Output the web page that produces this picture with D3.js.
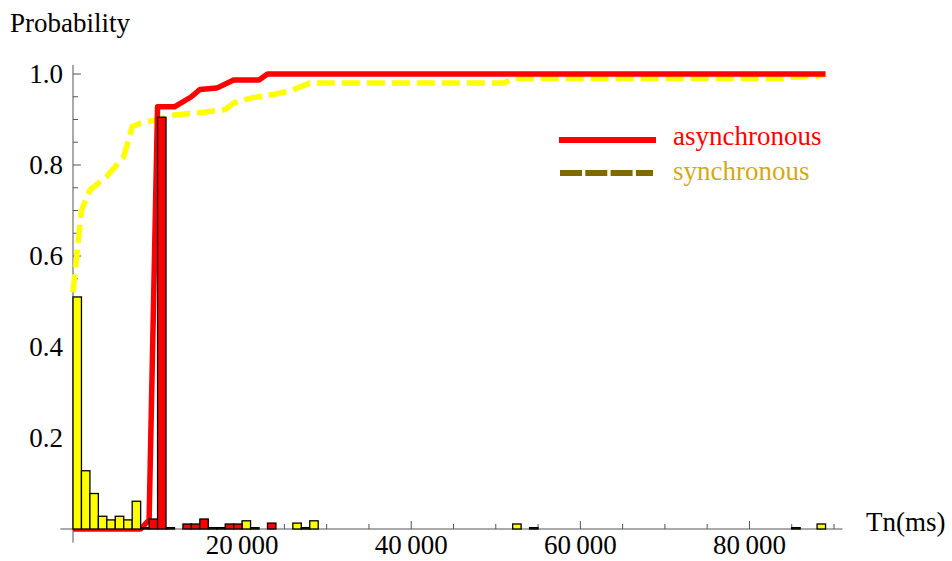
<!DOCTYPE html>
<html>
<head>
<meta charset="utf-8">
<script src="https://cdn.jsdelivr.net/npm/d3@7"></script>
<style>
  body { margin: 0; background: #fff; }
  svg text { font-family: "Liberation Serif", "DejaVu Serif", serif; }
</style>
</head>
<body>
<svg width="952" height="561"></svg>
<script>
// histogram bins (start of bin in ms, probability), bin width 1000 ms
var binWidth = 1000;
var syncStarts = [0, 1000, 2000, 3000, 4000, 5000, 6000, 7000, 8000, 11000, 16000, 17000,
    20000, 21000, 26000, 27000, 28000, 52000, 54000, 85000, 88000];
var syncProb = [0.51, 0.128, 0.078, 0.028, 0.02, 0.028, 0.02, 0.061, 0.003, 0.003, 0.003, 0.003,
    0.018, 0.003, 0.013, 0.003, 0.018, 0.011, 0.003, 0.003, 0.011];
var asyncStarts = [9000, 10000, 13000, 14000, 15000, 18000, 19000, 23000];
var asyncProb = [0.022, 0.905, 0.011, 0.011, 0.022, 0.011, 0.011, 0.013];

// cumulative curves
var asyncCdfT = [0, 8000, 9000, 10000, 12000, 14000, 15000, 17000, 19000, 22000, 23000, 89000];
var asyncCdfP = [0, 0, 0.02, 0.928, 0.928, 0.95, 0.966, 0.969, 0.987, 0.987, 1.0, 1.0];
var syncCdfT = [0, 1000, 2000, 4000, 6000, 7000, 8000, 9000, 10000, 12000, 15000, 18000, 19000,
    21000, 24000, 26000, 28000, 51000, 52000, 84000, 85000, 88000, 89000];
var syncCdfP = [0.52, 0.70, 0.745, 0.775, 0.818, 0.884, 0.892, 0.896, 0.90, 0.91, 0.915, 0.922, 0.936,
    0.947, 0.956, 0.965, 0.98, 0.98, 0.99, 0.99, 0.993, 0.995, 1.0];

// axes
var xTickLabels = [20000, 40000, 60000, 80000];
var yTickLabels = [0.2, 0.4, 0.6, 0.8, 1.0];
var seriesNames = ["asynchronous", "synchronous"];

var svg = d3.select("svg");

var x = d3.scaleLinear().domain([0, 90000]).range([73, 834]);
var y = d3.scaleLinear().domain([0, 1]).range([529, 74]);

var axisColor = "#555";

// x axis line and ticks
svg.append("line")
    .attr("x1", x(-1500)).attr("x2", x(91000))
    .attr("y1", y(0)).attr("y2", y(0))
    .attr("stroke", axisColor).attr("stroke-width", 1);

svg.append("g").selectAll("line")
    .data(d3.range(5000, 90001, 5000))
    .enter().append("line")
    .attr("x1", function (d) { return x(d); })
    .attr("x2", function (d) { return x(d); })
    .attr("y1", y(0))
    .attr("y2", function (d) { return y(0) - (d % 20000 == 0 ? 8 : 5); })
    .attr("stroke", axisColor);

svg.append("g").selectAll("text")
    .data(xTickLabels)
    .enter().append("text")
    .attr("x", function (d) { return x(d); })
    .attr("y", 554)
    .attr("text-anchor", "middle")
    .attr("font-size", "27px")
    .text(function (d) { return d3.format(",")(d).replace(",", "\u2009"); });

// y axis line and ticks
svg.append("line")
    .attr("x1", x(0)).attr("x2", x(0))
    .attr("y1", y(-0.03)).attr("y2", y(1.02))
    .attr("stroke", axisColor).attr("stroke-width", 1);

svg.append("g").selectAll("line")
    .data(d3.range(1, 21))
    .enter().append("line")
    .attr("x1", x(0))
    .attr("x2", function (d) { return x(0) + (d % 4 == 0 ? 8 : 5); })
    .attr("y1", function (d) { return y(d / 20); })
    .attr("y2", function (d) { return y(d / 20); })
    .attr("stroke", axisColor);

svg.append("g").selectAll("text")
    .data(yTickLabels)
    .enter().append("text")
    .attr("x", 63)
    .attr("y", function (d) { return y(d) + 9; })
    .attr("text-anchor", "end")
    .attr("font-size", "27px")
    .text(function (d) { return d3.format(".1f")(d); });

// axis titles
svg.append("text").attr("x", 10).attr("y", 32).attr("font-size", "27px").text("Probability");
svg.append("text").attr("x", 866).attr("y", 531).attr("font-size", "27px").text("Tn(ms)");

// cumulative lines
var line = d3.line()
    .x(function (d) { return x(d[0]); })
    .y(function (d) { return y(d[1]); });

svg.append("path")
    .attr("d", line(d3.zip(syncCdfT, syncCdfP)))
    .attr("fill", "none")
    .attr("stroke", "#ffff00")
    .attr("stroke-width", 5.5)
    .attr("stroke-dasharray", "18,7");

svg.append("path")
    .attr("d", line(d3.zip(asyncCdfT, asyncCdfP)))
    .attr("fill", "none")
    .attr("stroke", "#ff0000")
    .attr("stroke-width", 5.5)
    .attr("stroke-linejoin", "round");

// histogram bars
function drawBars(starts, probs, color) {
    svg.append("g").selectAll("rect")
        .data(d3.zip(starts, probs))
        .enter().append("rect")
        .attr("x", function (d) { return x(d[0]); })
        .attr("width", function (d) { return x(d[0] + binWidth) - x(d[0]); })
        .attr("y", function (d) { return y(d[1]); })
        .attr("height", function (d) { return y(0) - y(d[1]); })
        .attr("fill", color)
        .attr("stroke", "#000")
        .attr("stroke-width", 1.3);
}
drawBars(syncStarts, syncProb, "#ffff00");
drawBars(asyncStarts, asyncProb, "#ff0000");

// legend
var lg = svg.append("g");
lg.append("line")
    .attr("x1", 559).attr("x2", 656).attr("y1", 140).attr("y2", 140)
    .attr("stroke", "#ff0000").attr("stroke-width", 6);
lg.append("text")
    .attr("x", 673).attr("y", 145)
    .attr("font-size", "27px").attr("fill", "#ff0000")
    .text(seriesNames[0]);
lg.append("line")
    .attr("x1", 560).attr("x2", 653).attr("y1", 173).attr("y2", 173)
    .attr("stroke", "#806a00").attr("stroke-width", 6)
    .attr("stroke-dasharray", "22,3.3");
lg.append("text")
    .attr("x", 673).attr("y", 180)
    .attr("font-size", "27px").attr("fill", "#d4aa10")
    .text(seriesNames[1]);
</script>
</body>
</html>
